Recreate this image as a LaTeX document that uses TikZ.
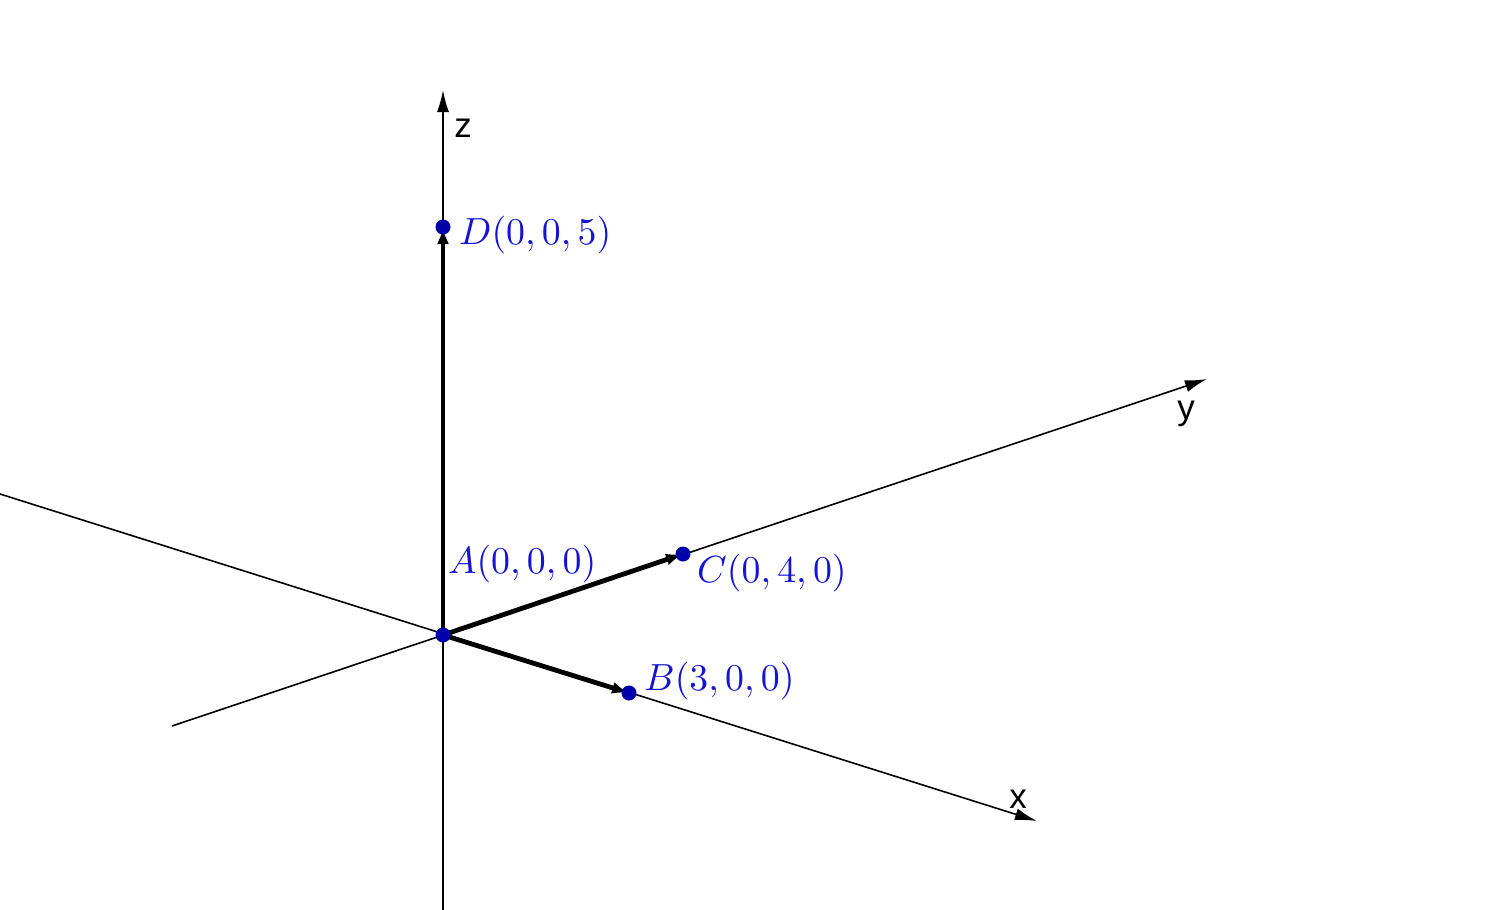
\documentclass[tikz,border=0pt]{standalone}
\usepackage{fontspec}
\setsansfont{Liberation Sans}
\usetikzlibrary{arrows.meta}
\definecolor{ptblue}{RGB}{0,0,170}
\definecolor{lblblue}{RGB}{20,20,210}
\newcommand{\biglbl}[1]{\scalebox{3.78}{$#1$}}
\begin{document}
\begin{tikzpicture}[x=1pt,y=-1pt,
  axis/.style={line width=1.6pt,-{Latex[length=22pt,width=12pt]}},
  vec/.style={line width=4.8pt,-{Latex[length=17pt,width=12pt]}},
  pt/.style={circle,fill=ptblue,inner sep=0pt,minimum size=15pt},
  axlbl/.style={font=\sffamily\fontsize{35}{40}\selectfont},
  ptlbl/.style={text=lblblue,anchor=base west,inner sep=0pt}]
\useasboundingbox (0,0) rectangle (1492,910);
% axis ends
\coordinate (xs) at (0,494);
\coordinate (xe) at (1037,821);
\coordinate (ys) at (172,726);
\coordinate (ye) at (1207,379);
\coordinate (zs) at (443,910);
\coordinate (ze) at (443,90);
\coordinate (A) at (443,635);
\coordinate (B) at (629,693);
\coordinate (C) at (683,554);
\coordinate (D) at (443,227);
% axes
\draw[axis] (xs) -- (xe);
\draw[axis] (ys) -- (ye);
\draw[axis] (zs) -- (ze);
\node[axlbl] (lz) at (463,128) {z};
\node[axlbl] (ly) at (1186,414) {y};
\node[axlbl] (lx) at (1018,799) {x};
% vectors
\draw[vec] (A) -- (B);
\draw[vec] (A) -- (C);
\draw[vec] (A) -- (D);
% points
\node[pt] (pA) at (A) {};
\node[pt] (pB) at (B) {};
\node[pt] (pC) at (C) {};
\node[pt] (pD) at (D) {};
% labels
\node[ptlbl] (lA) at (448,573) {\biglbl{A(0,0,0)}};
\node[ptlbl] (lB) at (644,690) {\biglbl{B(3,0,0)}};
\node[ptlbl] (lC) at (697,582) {\biglbl{C(0,4,0)}};
\node[ptlbl] (lD) at (459,244) {\biglbl{D(0,0,5)}};
\end{tikzpicture}
\end{document}
